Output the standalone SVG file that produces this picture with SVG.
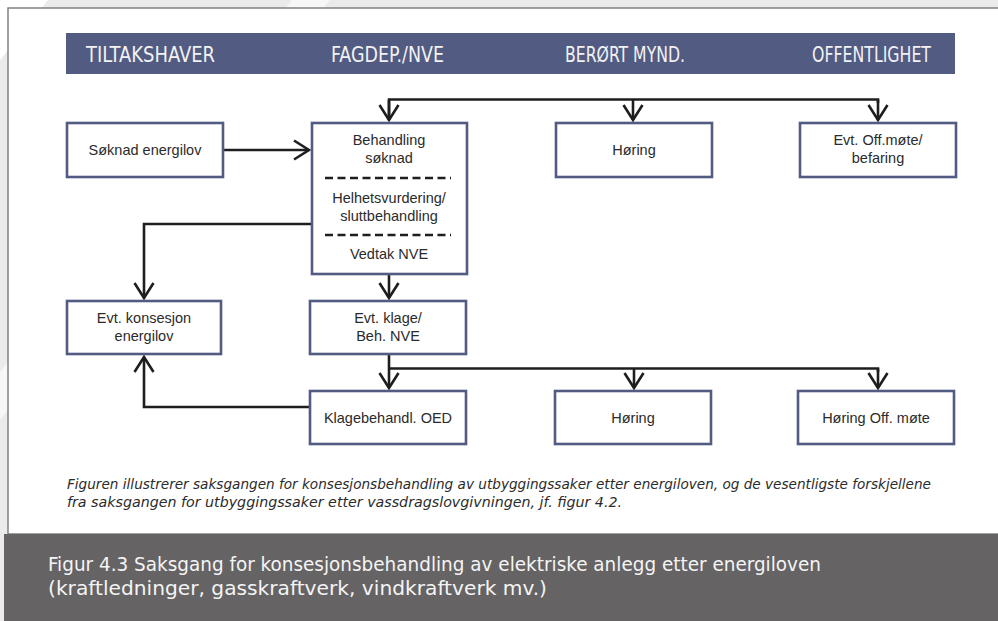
<svg xmlns="http://www.w3.org/2000/svg" width="998" height="621" viewBox="0 0 998 621">
  <style>
    .box { fill: #ffffff; stroke: #525b82; stroke-width: 2.6; }
    .lbl { font-family: "Liberation Sans", Arial, sans-serif; font-size: 14.5px; fill: #2b2b2b; text-anchor: middle; }
    .hdr { font-family: "DejaVu Sans Condensed", "Liberation Sans", sans-serif; font-size: 21px; fill: #f2f2f4; }
    .con { fill: none; stroke: #1e1e1e; stroke-width: 2.6; stroke-linejoin: miter; }
    .arr { marker-end: url(#vhead); }
    .dash { stroke: #1e1e1e; stroke-width: 2.6; stroke-dasharray: 8 4.5; }
    .note { font-family: "DejaVu Sans Condensed", "Liberation Sans", sans-serif; font-style: italic; font-size: 13.5px; fill: #2b2b2b; }
    .cap { font-family: "DejaVu Sans Condensed", "Liberation Sans", sans-serif; font-size: 19.5px; fill: #f4f4f4; }
  </style>
  <defs>
    <marker id="vhead" viewBox="-17 -11 19 22" markerWidth="19" markerHeight="22" refX="0" refY="0" orient="auto" markerUnits="userSpaceOnUse">
      <path d="M-15,-9.5 L0,0 L-15,9.5" fill="none" stroke="#1e1e1e" stroke-width="2.6"/>
    </marker>
  </defs>

  <!-- background -->
  <rect x="0" y="0" width="998" height="621" fill="#ebebec"/>
  <polygon points="0,0 48,0 0,60" fill="#ffffff"/>
  <polygon points="292,0 330,0 0,420 0,372" fill="#f7f7f7"/>
  <rect x="8" y="8" width="1000" height="526" fill="#ffffff" stroke="#7a7a7a" stroke-width="1.4"/>
  <rect x="4" y="534" width="994" height="87" fill="#656364"/>

  <!-- header bar -->
  <g id="header">
    <rect x="66" y="33" width="889" height="41" fill="#525b82"/>
    <text class="hdr" x="86" y="62" textLength="129" lengthAdjust="spacingAndGlyphs">TILTAKSHAVER</text>
    <text class="hdr" x="331" y="62" textLength="113" lengthAdjust="spacingAndGlyphs">FAGDEP./NVE</text>
    <text class="hdr" x="565" y="62" textLength="120" lengthAdjust="spacingAndGlyphs">BERØRT MYND.</text>
    <text class="hdr" x="812" y="62" textLength="119" lengthAdjust="spacingAndGlyphs">OFFENTLIGHET</text>
  </g>

  <!-- connectors -->
  <g id="connectors">
    <line class="con arr" x1="223" y1="150" x2="309" y2="150"/>
    <polyline class="con" points="389,120 389,99.5 878,99.5 878,103"/>
    <line class="con arr" x1="389" y1="100" x2="389" y2="120"/>
    <line class="con arr" x1="633" y1="99.5" x2="633" y2="120"/>
    <line class="con arr" x1="878" y1="99.5" x2="878" y2="120"/>
    <polyline class="con arr" points="312,224 144,224 144,298"/>
    <line class="con arr" x1="389" y1="274" x2="389" y2="298"/>
    <line class="con arr" x1="389" y1="354" x2="389" y2="388"/>
    <polyline class="con" points="389,368.5 878,368.5 878,372"/>
    <line class="con arr" x1="634" y1="368.5" x2="634" y2="388"/>
    <line class="con arr" x1="878" y1="368.5" x2="878" y2="388"/>
    <polyline class="con arr" points="310,407 144,407 144,357"/>
  </g>

  <!-- nodes -->
  <g id="soknad">
    <rect class="box" x="67" y="123" width="156" height="54"/>
    <text class="lbl" x="145" y="155">Søknad energilov</text>
  </g>
  <g id="behandling">
    <rect class="box" x="312" y="123" width="155" height="151"/>
    <text class="lbl" x="389" y="145">Behandling</text>
    <text class="lbl" x="389" y="163">søknad</text>
    <line class="dash" x1="325" y1="178" x2="451" y2="178"/>
    <text class="lbl" x="389" y="203">Helhetsvurdering/</text>
    <text class="lbl" x="389" y="221">sluttbehandling</text>
    <line class="dash" x1="325" y1="235" x2="451" y2="235"/>
    <text class="lbl" x="389" y="259">Vedtak NVE</text>
  </g>
  <g id="horing1">
    <rect class="box" x="556" y="123" width="156" height="54"/>
    <text class="lbl" x="634" y="155">Høring</text>
  </g>
  <g id="offmote">
    <rect class="box" x="800" y="123" width="156" height="54"/>
    <text class="lbl" x="878" y="145">Evt. Off.møte/</text>
    <text class="lbl" x="878" y="163">befaring</text>
  </g>
  <g id="konsesjon">
    <rect class="box" x="67" y="301" width="154" height="53"/>
    <text class="lbl" x="144" y="323">Evt. konsesjon</text>
    <text class="lbl" x="144" y="341">energilov</text>
  </g>
  <g id="klage">
    <rect class="box" x="310" y="301" width="156" height="53"/>
    <text class="lbl" x="388" y="323">Evt. klage/</text>
    <text class="lbl" x="388" y="341">Beh. NVE</text>
  </g>
  <g id="klagebehandl">
    <rect class="box" x="310" y="391" width="156" height="53"/>
    <text class="lbl" x="388" y="423">Klagebehandl. OED</text>
  </g>
  <g id="horing2">
    <rect class="box" x="555" y="391" width="156" height="53"/>
    <text class="lbl" x="633" y="423">Høring</text>
  </g>
  <g id="horingoff">
    <rect class="box" x="798" y="391" width="156" height="53"/>
    <text class="lbl" x="876" y="423">Høring Off. møte</text>
  </g>

  <!-- notes and caption -->
  <text class="note" x="67" y="489" textLength="864" lengthAdjust="spacingAndGlyphs">Figuren illustrerer saksgangen for konsesjonsbehandling av utbyggingssaker etter energiloven, og de vesentligste forskjellene</text>
  <text class="note" x="67" y="507" textLength="555" lengthAdjust="spacingAndGlyphs">fra saksgangen for utbyggingssaker etter vassdragslovgivningen, jf. figur 4.2.</text>
  <text class="cap" x="48" y="571" textLength="773" lengthAdjust="spacingAndGlyphs">Figur 4.3 Saksgang for konsesjonsbehandling av elektriske anlegg etter energiloven</text>
  <text class="cap" x="48" y="595" textLength="499" lengthAdjust="spacingAndGlyphs">(kraftledninger, gasskraftverk, vindkraftverk mv.)</text>
</svg>
